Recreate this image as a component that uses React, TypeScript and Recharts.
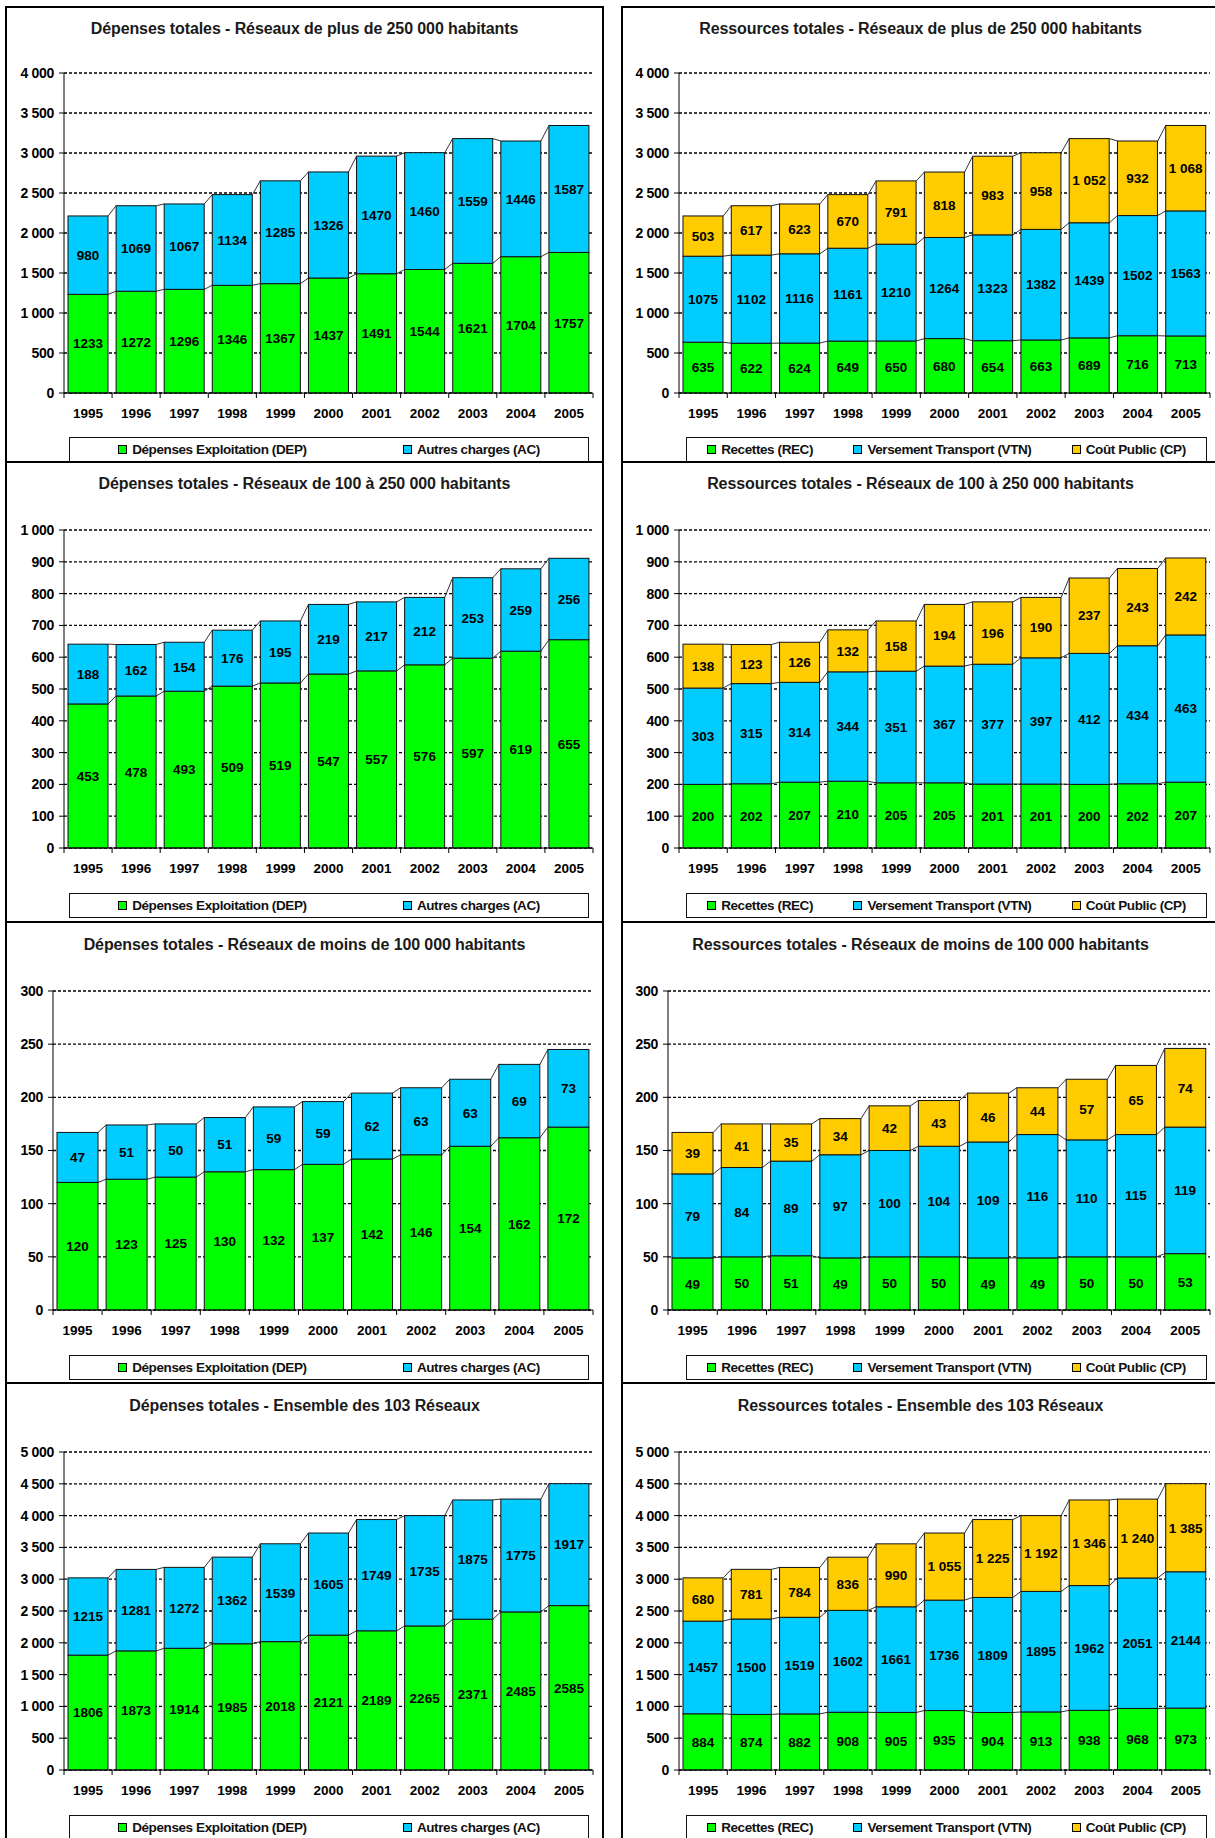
import React from 'react';
import { BarChart, Bar, XAxis, YAxis, CartesianGrid, LabelList } from 'recharts';

const years = ['1995', '1996', '1997', '1998', '1999', '2000', '2001', '2002', '2003', '2004', '2005'];

// Réseaux de plus de 250 000 habitants
const dep250 = [1233, 1272, 1296, 1346, 1367, 1437, 1491, 1544, 1621, 1704, 1757];
const ac250 = [980, 1069, 1067, 1134, 1285, 1326, 1470, 1460, 1559, 1446, 1587];
const rec250 = [635, 622, 624, 649, 650, 680, 654, 663, 689, 716, 713];
const vtn250 = [1075, 1102, 1116, 1161, 1210, 1264, 1323, 1382, 1439, 1502, 1563];
const cp250 = [503, 617, 623, 670, 791, 818, 983, 958, 1052, 932, 1068];

// Réseaux de 100 à 250 000 habitants
const dep100 = [453, 478, 493, 509, 519, 547, 557, 576, 597, 619, 655];
const ac100 = [188, 162, 154, 176, 195, 219, 217, 212, 253, 259, 256];
const rec100 = [200, 202, 207, 210, 205, 205, 201, 201, 200, 202, 207];
const vtn100 = [303, 315, 314, 344, 351, 367, 377, 397, 412, 434, 463];
const cp100 = [138, 123, 126, 132, 158, 194, 196, 190, 237, 243, 242];

// Réseaux de moins de 100 000 habitants
const depSmall = [120, 123, 125, 130, 132, 137, 142, 146, 154, 162, 172];
const acSmall = [47, 51, 50, 51, 59, 59, 62, 63, 63, 69, 73];
const recSmall = [49, 50, 51, 49, 50, 50, 49, 49, 50, 50, 53];
const vtnSmall = [79, 84, 89, 97, 100, 104, 109, 116, 110, 115, 119];
const cpSmall = [39, 41, 35, 34, 42, 43, 46, 44, 57, 65, 74];

// Ensemble des 103 réseaux
const depAll = [1806, 1873, 1914, 1985, 2018, 2121, 2189, 2265, 2371, 2485, 2585];
const acAll = [1215, 1281, 1272, 1362, 1539, 1605, 1749, 1735, 1875, 1775, 1917];
const recAll = [884, 874, 882, 908, 905, 935, 904, 913, 938, 968, 973];
const vtnAll = [1457, 1500, 1519, 1602, 1661, 1736, 1809, 1895, 1962, 2051, 2144];
const cpAll = [680, 781, 784, 836, 990, 1055, 1225, 1192, 1346, 1240, 1385];

const ticks4000 = [0, 500, 1000, 1500, 2000, 2500, 3000, 3500, 4000];
const ticks1000 = [0, 100, 200, 300, 400, 500, 600, 700, 800, 900, 1000];
const ticks300 = [0, 50, 100, 150, 200, 250, 300];
const ticks5000 = [0, 500, 1000, 1500, 2000, 2500, 3000, 3500, 4000, 4500, 5000];

const GREEN = '#00ff00';
const BLUE = '#00ccff';
const YELLOW = '#ffcc00';
const FONT = '"Liberation Sans", Arial, sans-serif';
const CAT_GAP = 4;

const spaced = (v: number) =>
  v >= 1000 ? `${Math.floor(v / 1000)} ${String(v % 1000).padStart(3, '0')}` : String(v);

interface Serie {
  key: string;
  name: string;
  color: string;
  values: number[];
  spacedLabel?: boolean;
}

const depSeries = (dep: number[], ac: number[]): Serie[] => [
  { key: 'dep', name: 'Dépenses Exploitation (DEP)', color: GREEN, values: dep },
  { key: 'ac', name: 'Autres charges (AC)', color: BLUE, values: ac },
];

const resSeries = (rec: number[], vtn: number[], cp: number[]): Serie[] => [
  { key: 'rec', name: 'Recettes (REC)', color: GREEN, values: rec },
  { key: 'vtn', name: 'Versement Transport (VTN)', color: BLUE, values: vtn },
  { key: 'cp', name: 'Coût Public (CP)', color: YELLOW, values: cp, spacedLabel: true },
];

const rows = [
  { top: 6, bottom: 463, plotTop: 73, plotBottom: 393, titleY: 29, legendTop: 437 },
  { top: 461, bottom: 923, plotTop: 530, plotBottom: 848, titleY: 484, legendTop: 893 },
  { top: 921, bottom: 1384, plotTop: 991, plotBottom: 1310, titleY: 945, legendTop: 1355 },
  { top: 1382, bottom: 1842, plotTop: 1452, plotBottom: 1770, titleY: 1406, legendTop: 1815 },
];

const cols = [
  { left: 5, right: 604, plotLeft: 64, plotRight: 593, legendLeft: 69, legendRight: 589 },
  { left: 621, right: 1220, plotLeft: 679, plotRight: 1210, legendLeft: 686, legendRight: 1207 },
];

interface PanelProps {
  row: number;
  col: number;
  title: string;
  series: Serie[];
  ticks: number[];
  narrowAxis?: boolean;
}

const Panel: React.FC<PanelProps> = ({ row, col, title, series, ticks, narrowAxis }) => {
  const r = rows[row];
  const c = cols[col];
  const plotLeft = c.plotLeft - (narrowAxis ? 11 : 0);
  const chartLeft = c.left + 3;
  const chartRight = Math.min(c.plotRight + 6, 1215);
  const mTop = 10;
  const xH = 40;
  const chartTop = r.plotTop - mTop;
  const chartW = chartRight - chartLeft;
  const chartH = r.plotBottom - r.plotTop + mTop + xH;
  const band = (c.plotRight - plotLeft) / years.length;
  const keys = series.map((s) => s.key);

  const data = years.map((year, i) => {
    const d: Record<string, any> = { year };
    series.forEach((s) => (d[s.key] = s.values[i]));
    return d;
  });

  // stacked segment + Excel-like series line back to the previous bar
  const makeShape = (k: number, color: string) => (props: any) => {
    const { x, y, width, height, payload } = props;
    const i = years.indexOf(payload.year);
    const val = payload[keys[k]];
    let low = 0;
    for (let j = 0; j < k; j++) low += payload[keys[j]];
    const base = y + height;
    const px = height / val;
    let link = null;
    if (i > 0) {
      const prev = data[i - 1];
      let prevTop = 0;
      for (let j = 0; j <= k; j++) prevTop += prev[keys[j]];
      const y0 = base - (prevTop - low) * px;
      link = <line x1={x - 2 * CAT_GAP} y1={y0} x2={x} y2={y} stroke="#333" strokeWidth={1} />;
    }
    return (
      <g>
        <rect x={x} y={y} width={width} height={height} fill={color} stroke="#111" strokeWidth={1} />
        {link}
      </g>
    );
  };

  const XTick = (props: any) => {
    const { x, y, payload, index } = props;
    return (
      <g>
        <line x1={x - band / 2} y1={y} x2={x - band / 2} y2={y + 5} stroke="#000" />
        {index === years.length - 1 && <line x1={x + band / 2} y1={y} x2={x + band / 2} y2={y + 5} stroke="#000" />}
        <text x={x} y={y + 25} textAnchor="middle" fontFamily={FONT} fontSize={13.5} fontWeight="bold" fill="#000">
          {payload.value}
        </text>
      </g>
    );
  };

  const yMax = ticks[ticks.length - 1];

  return (
    <>
      <div
        style={{
          position: 'absolute',
          left: c.left,
          top: r.top,
          width: c.right - c.left,
          height: r.bottom - r.top,
          border: '2px solid #000',
          boxSizing: 'border-box',
        }}
      />
      <div
        style={{
          position: 'absolute',
          left: c.left,
          width: c.right - c.left,
          top: r.titleY - 10,
          lineHeight: '20px',
          textAlign: 'center',
          fontFamily: FONT,
          fontWeight: 'bold',
          fontSize: 16,
          letterSpacing: -0.1,
          color: '#1a1a1a',
        }}
      >
        {title}
      </div>
      <div style={{ position: 'absolute', left: chartLeft, top: chartTop }}>
        <BarChart
          width={chartW}
          height={chartH}
          data={data}
          margin={{ top: mTop, right: chartRight - c.plotRight, bottom: 0, left: 0 }}
          barCategoryGap={CAT_GAP}
        >
          <CartesianGrid yAxisId="l" vertical={false} stroke="#000" strokeDasharray="3 2" strokeWidth={1.3} />
          <XAxis
            dataKey="year"
            height={xH}
            interval={0}
            axisLine={{ stroke: '#000' }}
            tickLine={false}
            tickSize={0}
            tickMargin={0}
            tick={(p: any) => <XTick {...p} />}
          />
          <YAxis
            yAxisId="l"
            width={plotLeft - chartLeft}
            domain={[0, yMax]}
            ticks={ticks}
            interval={0}
            tickFormatter={spaced}
            axisLine={{ stroke: '#000' }}
            tickLine={{ stroke: '#000' }}
            tickSize={5}
            tickMargin={5}
            tick={{ fill: '#000', fontSize: 14, fontWeight: 'bold', fontFamily: FONT, letterSpacing: -0.3 }}
          />
          <YAxis
            yAxisId="r"
            orientation="right"
            width={0}
            domain={[0, yMax]}
            tick={false}
            tickLine={false}
            axisLine={{ stroke: '#999' }}
          />
          {series.map((s, k) => (
            <Bar
              key={s.key}
              yAxisId="l"
              dataKey={s.key}
              stackId="a"
              fill={s.color}
              isAnimationActive={false}
              shape={makeShape(k, s.color)}
            >
              <LabelList
                dataKey={s.key}
                position="center"
                formatter={(v: any) => (s.spacedLabel ? spaced(Number(v)) : String(v))}
                fill="#000"
                stroke="none"
                fontSize={13.5}
                fontWeight="bold"
                fontFamily={FONT}
              />
            </Bar>
          ))}
        </BarChart>
      </div>
      <div
        style={{
          position: 'absolute',
          left: c.legendLeft,
          top: r.legendTop,
          width: c.legendRight - c.legendLeft,
          height: 25,
          border: '1.5px solid #111',
          boxSizing: 'border-box',
          display: 'flex',
          alignItems: 'center',
          justifyContent: 'space-around',
          background: '#fff',
          fontFamily: FONT,
          fontWeight: 'bold',
          fontSize: 13.5,
          letterSpacing: -0.4,
          color: '#111',
        }}
      >
        {series.map((s) => (
          <span key={s.key} style={{ display: 'flex', alignItems: 'center' }}>
            <span
              style={{
                display: 'inline-block',
                width: 7,
                height: 7,
                border: '1px solid #000',
                background: s.color,
                marginRight: 5,
              }}
            />
            {s.name}
          </span>
        ))}
      </div>
    </>
  );
};

export default function App() {
  return (
    <div
      style={{
        position: 'absolute',
        left: 0,
        top: 0,
        width: 1215,
        height: 1838,
        overflow: 'hidden',
        background: '#fff',
      }}
    >
      <Panel row={0} col={0} title="Dépenses totales - Réseaux de plus de 250 000 habitants" series={depSeries(dep250, ac250)} ticks={ticks4000} />
      <Panel row={0} col={1} title="Ressources totales - Réseaux de plus de 250 000 habitants" series={resSeries(rec250, vtn250, cp250)} ticks={ticks4000} />
      <Panel row={1} col={0} title="Dépenses totales - Réseaux de 100 à 250 000 habitants" series={depSeries(dep100, ac100)} ticks={ticks1000} />
      <Panel row={1} col={1} title="Ressources totales - Réseaux de 100 à 250 000 habitants" series={resSeries(rec100, vtn100, cp100)} ticks={ticks1000} />
      <Panel row={2} col={0} title="Dépenses totales - Réseaux de moins de 100 000 habitants" series={depSeries(depSmall, acSmall)} ticks={ticks300} narrowAxis />
      <Panel row={2} col={1} title="Ressources totales - Réseaux de moins de 100 000 habitants" series={resSeries(recSmall, vtnSmall, cpSmall)} ticks={ticks300} narrowAxis />
      <Panel row={3} col={0} title="Dépenses totales - Ensemble des 103 Réseaux" series={depSeries(depAll, acAll)} ticks={ticks5000} />
      <Panel row={3} col={1} title="Ressources totales - Ensemble des 103 Réseaux" series={resSeries(recAll, vtnAll, cpAll)} ticks={ticks5000} />
    </div>
  );
}
